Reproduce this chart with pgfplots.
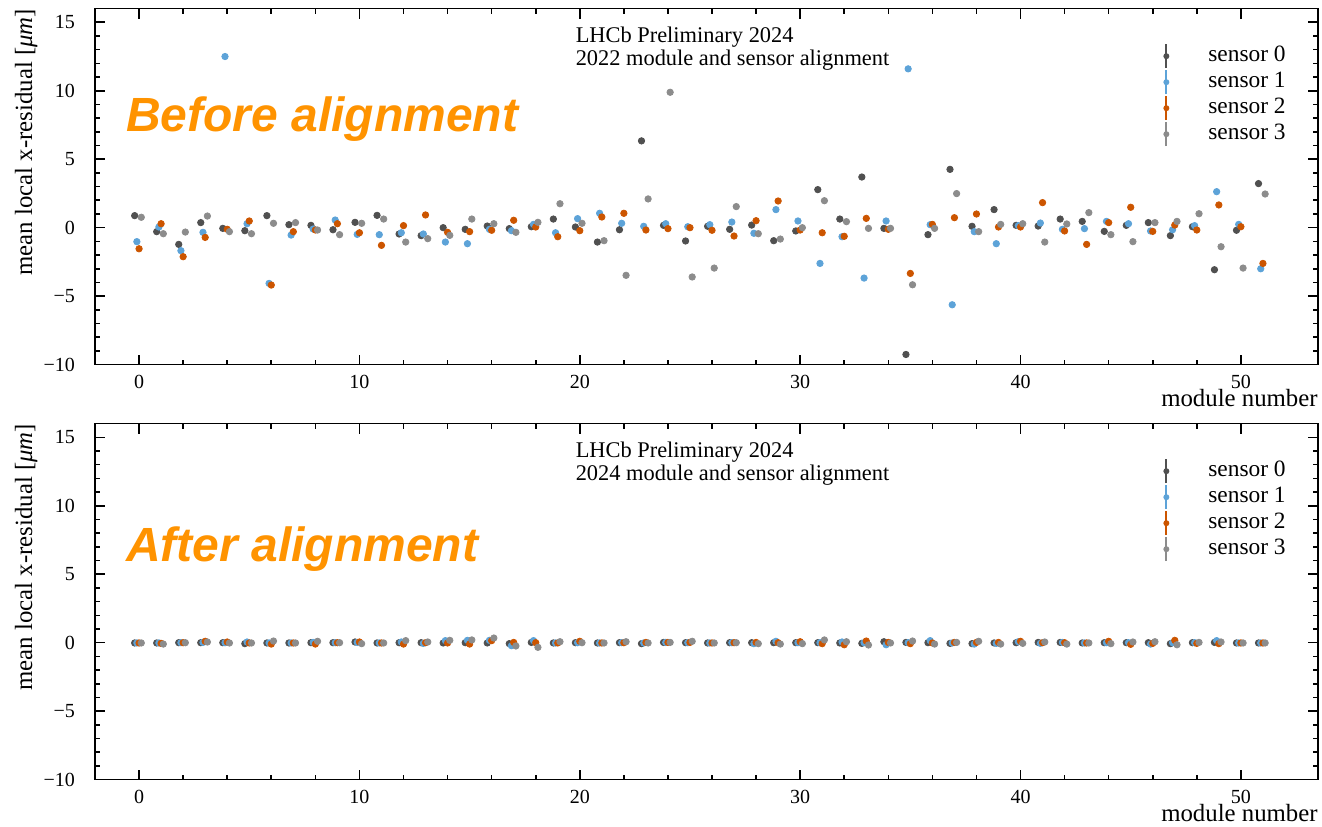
\documentclass[border=0pt]{standalone}
\usepackage{pgfplots}
\pgfplotsset{compat=1.18}
\usepackage{pgfplotstable}
\usepackage{fontspec}
\setmainfont{Liberation Serif}
\newfontfamily\bigsans{Liberation Sans}
\definecolor{c0}{RGB}{80,80,80}
\definecolor{c1}{RGB}{93,163,216}
\definecolor{c2}{RGB}{204,85,0}
\definecolor{c3}{RGB}{140,140,140}
\definecolor{orng}{RGB}{255,147,0}

\pgfplotstableread{
m s0 s1 s2 s3
0 0.88 -1.02 -1.54 0.76
1 -0.29 0.05 0.29 -0.44
2 -1.22 -1.68 -2.12 -0.32
3 0.37 -0.34 -0.71 0.85
4 -0.05 12.50 -0.12 -0.29
5 -0.22 0.29 0.49 -0.44
6 0.88 -4.07 -4.19 0.32
7 0.22 -0.54 -0.29 0.37
8 0.17 -0.10 -0.17 -0.17
9 -0.15 0.56 0.29 -0.51
10 0.39 -0.49 -0.37 0.32
11 0.90 -0.51 -1.29 0.63
12 -0.46 -0.37 0.15 -1.05
13 -0.58 -0.46 0.93 -0.80
14 0.00 -1.05 -0.34 -0.56
15 -0.12 -1.17 -0.29 0.63
16 0.12 -0.12 -0.19 0.29
17 -0.07 -0.22 0.54 -0.34
18 0.07 0.24 0.05 0.39
19 0.63 -0.37 -0.66 1.75
20 0.05 0.66 -0.22 0.32
21 -1.05 1.05 0.78 -0.95
22 -0.15 0.32 1.05 -3.48
23 6.34 0.10 -0.17 2.10
24 0.17 0.29 -0.07 9.89
25 -0.97 0.07 0.00 -3.60
26 0.10 0.22 -0.19 -2.95
27 -0.12 0.41 -0.61 1.54
28 0.19 -0.41 0.51 -0.44
29 -0.95 1.32 1.95 -0.83
30 -0.24 0.49 -0.17 0.00
31 2.78 -2.61 -0.37 1.97
32 0.63 -0.66 -0.63 0.44
33 3.70 -3.68 0.68 -0.05
34 -0.05 0.49 -0.12 -0.05
35 -9.26 11.60 -3.34 -4.17
36 -0.51 0.22 0.24 -0.05
37 4.26 -5.63 0.73 2.49
38 0.10 -0.29 1.00 -0.29
39 1.32 -1.17 0.05 0.24
40 0.17 0.15 0.05 0.29
41 0.12 0.34 1.83 -1.05
42 0.63 -0.12 -0.24 0.27
43 0.46 -0.07 -1.22 1.10
44 -0.27 0.46 0.37 -0.51
45 0.17 0.29 1.49 -1.02
46 0.37 -0.24 -0.27 0.37
47 -0.58 -0.15 0.19 0.46
48 0.07 0.15 -0.17 1.02
49 -3.07 2.63 1.66 -1.39
50 -0.19 0.24 0.07 -2.95
51 3.22 -3.00 -2.61 2.46
}\topdata

\pgfplotstableread{
m s0 s1 s2 s3
0 -0.02 -0.02 -0.02 -0.02
1 -0.02 -0.02 -0.05 -0.10
2 0.00 0.00 0.00 0.00
3 0.00 0.02 0.10 0.05
4 0.00 0.00 0.05 -0.02
5 -0.07 0.05 -0.02 -0.02
6 -0.02 -0.02 -0.10 0.12
7 -0.02 -0.02 -0.02 -0.02
8 0.00 0.02 -0.10 0.10
9 0.00 0.00 0.00 0.00
10 0.05 0.02 0.05 -0.07
11 -0.02 -0.02 -0.02 -0.02
12 0.00 0.05 -0.10 0.15
13 0.00 -0.05 0.00 0.05
14 -0.02 0.15 -0.02 0.17
15 0.00 0.17 -0.10 0.20
16 -0.02 0.17 0.15 0.34
17 -0.07 -0.22 0.02 -0.24
18 0.02 0.15 0.00 -0.34
19 -0.02 -0.02 -0.02 0.07
20 0.00 0.00 0.10 0.00
21 -0.02 -0.02 -0.02 -0.02
22 0.00 0.00 0.00 0.07
23 -0.07 -0.02 0.02 -0.02
24 0.02 0.02 0.02 0.02
25 0.00 0.00 0.02 0.10
26 -0.02 -0.02 -0.02 -0.02
27 0.00 0.00 0.00 0.00
28 0.00 -0.07 0.02 -0.07
29 0.00 0.10 0.00 -0.10
30 0.00 0.00 0.07 -0.07
31 0.00 0.00 -0.07 0.20
32 -0.02 0.05 -0.15 0.07
33 -0.05 0.00 0.12 -0.17
34 0.07 -0.15 0.02 -0.02
35 0.02 0.00 -0.07 0.12
36 0.00 0.15 -0.02 -0.10
37 -0.05 -0.02 0.02 0.02
38 -0.07 -0.10 0.02 0.10
39 -0.02 -0.05 0.02 -0.10
40 0.00 0.07 0.10 -0.05
41 0.02 -0.05 0.00 0.05
42 0.02 0.02 0.00 -0.10
43 -0.02 -0.02 -0.02 -0.02
44 0.00 0.00 0.10 -0.07
45 0.00 0.00 -0.12 0.05
46 0.00 -0.10 -0.05 0.07
47 -0.07 0.00 0.17 -0.15
48 0.00 0.00 -0.05 0.02
49 0.02 0.15 -0.07 0.05
50 -0.02 -0.02 -0.02 -0.02
51 -0.02 -0.02 -0.02 -0.02
}\botdata

\pgfplotsset{
  lhcb/.style={
    width=611.5pt, height=178pt, scale only axis,
    xmin=-2, xmax=53.5, ymin=-10, ymax=16,
    xtick={0,10,20,30,40,50}, minor x tick num=4,
    ytick={-10,-5,0,5,10,15}, minor y tick num=4,
    yticklabels={−10,−5,0,5,10,15},
    xtick pos=both, ytick pos=both,
    tick align=inside, major tick length=5pt, minor tick length=2.5pt,
    tick style={draw=black, line width=0.8pt},
    axis line style={line width=0.8pt},
    tick label style={font=\fontsize{10}{12}\selectfont},
    /pgf/number format/assume math mode=true,
    xticklabel style={inner sep=0pt, yshift=-5.2pt},
    yticklabel style={xshift=-6.5pt},
    xlabel={module number},
    ylabel={mean local x-residual [\textit{μm}]},
    label style={font=\fontsize{12.4}{14}\selectfont},
    x label style={at={(rel axis cs:1,0)}, anchor=base east, yshift=-21pt, inner sep=0pt},
    y label style={at={(rel axis cs:-0.0515,1)}, anchor=base east, inner sep=0pt},
    legend style={at={(rel axis cs:0.8675,0.904)}, anchor=north west, draw=none, fill=none,
      inner sep=0pt, row sep=0pt, font=\fontsize{11.7}{13}\selectfont,
      nodes={draw=none, inner sep=0pt, text height=9pt, text depth=4pt}, cells={anchor=west}},
  },
  s0/.style={only marks, mark=*, mark size=1.6pt, color=c0, mark options={draw=none, fill=c0},
    legend image code/.code={\path[draw=none,fill=none] (-5pt,-6.5pt) rectangle (21pt,6.5pt); \path[draw=c0,line width=1pt] (0pt,-6pt)--(0pt,6pt); \path[fill=c0,draw=none] (0pt,0pt) circle (1.5pt);}},
  s1/.style={only marks, mark=*, mark size=1.6pt, color=c1, mark options={draw=none, fill=c1},
    legend image code/.code={\path[draw=none,fill=none] (-5pt,-6.5pt) rectangle (21pt,6.5pt); \path[draw=c1,line width=1pt] (0pt,-6pt)--(0pt,6pt); \path[fill=c1,draw=none] (0pt,0pt) circle (1.5pt);}},
  s2/.style={only marks, mark=*, mark size=1.6pt, color=c2, mark options={draw=none, fill=c2},
    legend image code/.code={\path[draw=none,fill=none] (-5pt,-6.5pt) rectangle (21pt,6.5pt); \path[draw=c2,line width=1pt] (0pt,-6pt)--(0pt,6pt); \path[fill=c2,draw=none] (0pt,0pt) circle (1.5pt);}},
  s3/.style={only marks, mark=*, mark size=1.6pt, color=c3, mark options={draw=none, fill=c3},
    legend image code/.code={\path[draw=none,fill=none] (-5pt,-6.5pt) rectangle (21pt,6.5pt); \path[draw=c3,line width=1pt] (0pt,-6pt)--(0pt,6pt); \path[fill=c3,draw=none] (0pt,0pt) circle (1.5pt);}},
}

\begin{document}
\begin{tikzpicture}
\begin{axis}[lhcb, at={(0pt,0pt)}, anchor=north west]
\addplot[s0] table[x expr=\thisrow{m}-0.2, y=s0] {\topdata};
\addplot[s1] table[x expr=\thisrow{m}-0.1, y=s1] {\topdata};
\addplot[s2] table[x expr=\thisrow{m}, y=s2] {\topdata};
\addplot[s3] table[x expr=\thisrow{m}+0.1, y=s3] {\topdata};
\legend{sensor 0, sensor 1, sensor 2, sensor 3}
\node[anchor=base west, inner sep=0pt, font=\fontsize{24}{28}\bigsans\bfseries\itshape, text=orng] at (axis cs:-0.6,7.0) {Before alignment};
\node[anchor=base west, inner sep=0pt, font=\fontsize{11.2}{13}\selectfont] at (axis cs:19.8,13.5) {LHCb Preliminary 2024};
\node[anchor=base west, inner sep=0pt, font=\fontsize{11.2}{13}\selectfont] at (axis cs:19.8,11.82) {2022 module and sensor alignment};
\end{axis}
\begin{axis}[lhcb, at={(0pt,-207.5pt)}, anchor=north west]
\addplot[s0] table[x expr=\thisrow{m}-0.2, y=s0] {\botdata};
\addplot[s1] table[x expr=\thisrow{m}-0.1, y=s1] {\botdata};
\addplot[s2] table[x expr=\thisrow{m}, y=s2] {\botdata};
\addplot[s3] table[x expr=\thisrow{m}+0.1, y=s3] {\botdata};
\legend{sensor 0, sensor 1, sensor 2, sensor 3}
\node[anchor=base west, inner sep=0pt, font=\fontsize{24}{28}\bigsans\bfseries\itshape, text=orng] at (axis cs:-0.6,5.91) {After alignment};
\node[anchor=base west, inner sep=0pt, font=\fontsize{11.2}{13}\selectfont] at (axis cs:19.8,13.5) {LHCb Preliminary 2024};
\node[anchor=base west, inner sep=0pt, font=\fontsize{11.2}{13}\selectfont] at (axis cs:19.8,11.82) {2024 module and sensor alignment};
\end{axis}
\pgfresetboundingbox
\path[use as bounding box] (-47.5pt,4.3pt) rectangle (613.5pt,-408.75pt);
\end{tikzpicture}
\end{document}
